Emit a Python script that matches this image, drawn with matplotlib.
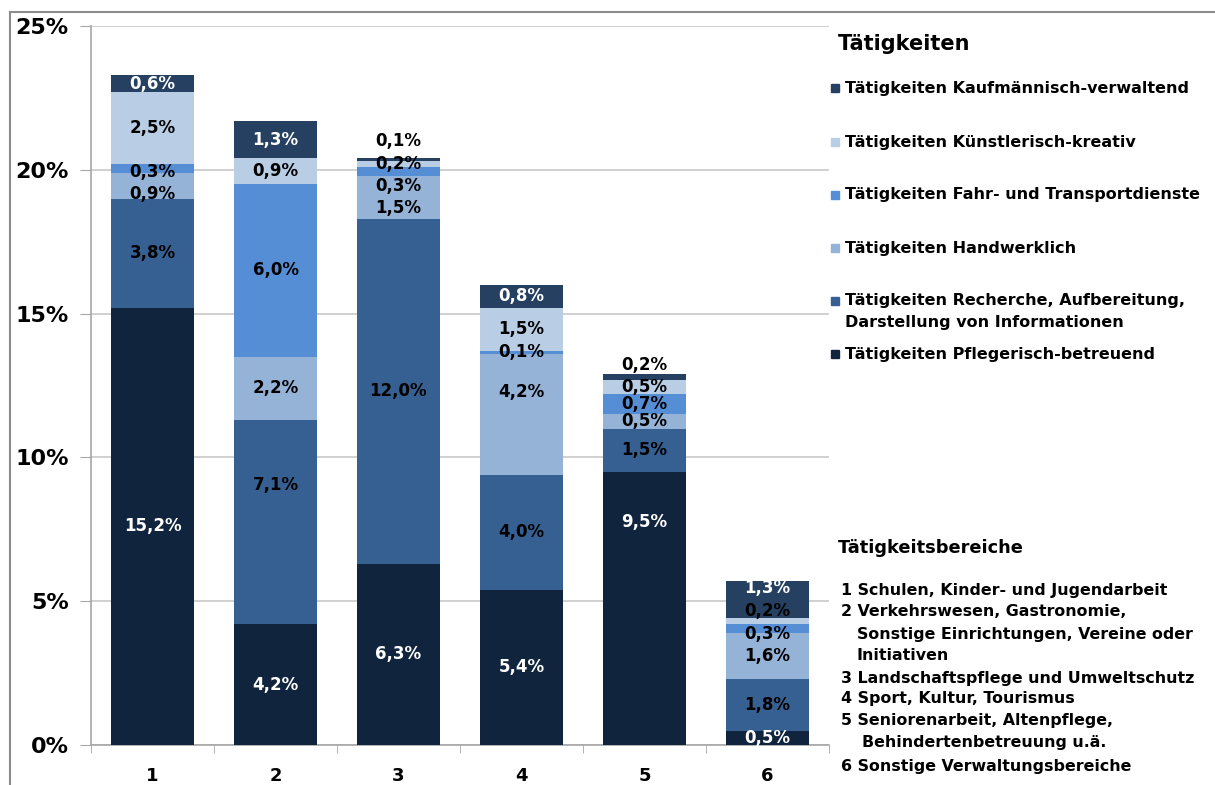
import matplotlib.pyplot as plt
import matplotlib.patches as mpatches
from matplotlib.lines import Line2D
import numpy as np

# Tätigkeitsbereiche 1-6
bereiche = ["1", "2", "3", "4", "5", "6"]

# share of respondents per activity (percent), stacked bottom to top
pflegerisch = [15.2, 4.2, 6.3, 5.4, 9.5, 0.5]
recherche = [3.8, 7.1, 12.0, 4.0, 1.5, 1.8]
handwerklich = [0.9, 2.2, 1.5, 4.2, 0.5, 1.6]
fahrdienste = [0.3, 6.0, 0.3, 0.1, 0.7, 0.3]
kuenstlerisch = [2.5, 0.9, 0.2, 1.5, 0.5, 0.2]
kaufmaennisch = [0.6, 1.3, 0.1, 0.8, 0.2, 1.3]

series = [
    ("Tätigkeiten Pflegerisch-betreuend", pflegerisch, "#10243e"),
    ("Tätigkeiten Recherche, Aufbereitung,\nDarstellung von Informationen", recherche, "#376092"),
    ("Tätigkeiten Handwerklich", handwerklich, "#95b3d7"),
    ("Tätigkeiten Fahr- und Transportdienste", fahrdienste, "#558ed5"),
    ("Tätigkeiten Künstlerisch-kreativ", kuenstlerisch, "#b9cde5"),
    ("Tätigkeiten Kaufmännisch-verwaltend", kaufmaennisch, "#254061"),
]

# vertical nudges of the value labels (rows = series, columns = bars)
label_shift = np.array([
    [0, 0, 0, 0, 3.0, 0],
    [0, 1.3, 0, 0, 0, 0],
    [-0.28, 0, -0.38, 0.77, 0, 0],
    [-0.12, 0, -0.52, 0, 0, -0.2],
    [0, 0, 0, 0, 0, 0.35],
    [0, 0, 0.66, 0, 0.4, 0.4],
])
label_white = [
    [True] * 6,
    [False] * 6,
    [False] * 6,
    [False] * 6,
    [False] * 6,
    [True, True, False, True, False, True],
]

# (indent px, text) for the area key
bereich_lines = [
    (0, "1 Schulen, Kinder- und Jugendarbeit"),
    (0, "2 Verkehrswesen, Gastronomie,"),
    (16, "Sonstige Einrichtungen, Vereine oder"),
    (16, "Initiativen"),
    (0, "3 Landschaftspflege und Umweltschutz"),
    (0, "4 Sport, Kultur, Tourismus"),
    (0, "5 Seniorenarbeit, Altenpflege,"),
    (21, "Behindertenbetreuung u.ä."),
    (0, "6 Sonstige Verwaltungsbereiche"),
]
bereich_y = [591, 612, 634, 656, 678, 699, 721, 743, 766]

W, H = 1215, 785
fig = plt.figure(figsize=(W / 100, H / 100), dpi=100)
ax = fig.add_axes([91 / W, 1 - 745 / H, (829 - 91) / W, (745 - 26) / H])

x = np.arange(len(bereiche))
width = 0.667
bottom = np.zeros(len(bereiche))
for i, (name, vals, color) in enumerate(series):
    vals = np.array(vals)
    ax.bar(x, vals, width, bottom=bottom, color=color, edgecolor="none", zorder=3)
    for j, v in enumerate(vals):
        ypos = bottom[j] + v / 2 + label_shift[i][j]
        ax.text(x[j], ypos, f"{v:.1f}%".replace(".", ","), ha="center", va="center",
                fontsize=12, fontweight="bold",
                color="white" if label_white[i][j] else "black", zorder=4)
    bottom += vals

ax.set_xlim(-0.5, 5.5)
ax.set_ylim(0, 25)
ax.set_yticks(range(0, 26, 5))
ax.set_yticklabels([f"{t}%" for t in range(0, 26, 5)], fontsize=16, fontweight="bold")
ax.set_xticks(x)
ax.set_xticklabels(bereiche, fontsize=13, fontweight="bold")
ax.set_xticks(np.arange(-0.5, 6.0, 1.0), minor=True)
ax.tick_params(axis="x", which="major", length=0, pad=16)
ax.tick_params(axis="x", which="minor", length=6, color="#a6a6a6", direction="out")
ax.tick_params(axis="y", length=8, color="#a6a6a6", pad=8)
ax.grid(axis="y", color="#c8c8c8", linewidth=1.2, zorder=0)
for side in ["top", "right"]:
    ax.spines[side].set_visible(False)
for side in ["left", "bottom"]:
    ax.spines[side].set_color("#a6a6a6")
    ax.spines[side].set_linewidth(1.2)

# legend drawn by hand to keep the wide spacing
fig.text(838 / W, 1 - 44 / H, "Tätigkeiten", fontsize=15, fontweight="bold",
         ha="left", va="center")
legend_y = [354, 301, 248, 195, 142, 88]
for (name, vals, color), ly in zip(series, legend_y):
    fig.patches.append(mpatches.Rectangle((831 / W, 1 - (ly + 4) / H), 8 / W, 8 / H,
                                          transform=fig.transFigure, color=color))
    for k, part in enumerate(name.split("\n")):
        fig.text(845 / W, 1 - (ly + 22 * k) / H, part, fontsize=11.5, fontweight="bold",
                 ha="left", va="center")

fig.text(838 / W, 1 - 548 / H, "Tätigkeitsbereiche", fontsize=12.8, fontweight="bold",
         ha="left", va="center")
for (indent, line), by in zip(bereich_lines, bereich_y):
    fig.text((841 + indent) / W, 1 - by / H, line, fontsize=11.4, fontweight="bold",
             ha="left", va="center")

# outer frame lines
fig.add_artist(Line2D([10 / W, 1], [1 - 12 / H, 1 - 12 / H], transform=fig.transFigure,
                      color="#8c8c8c", linewidth=1.5))
fig.add_artist(Line2D([10 / W, 10 / W], [0, 1 - 12 / H], transform=fig.transFigure,
                      color="#8c8c8c", linewidth=1.5))

fig.savefig("out.png", dpi=100)
